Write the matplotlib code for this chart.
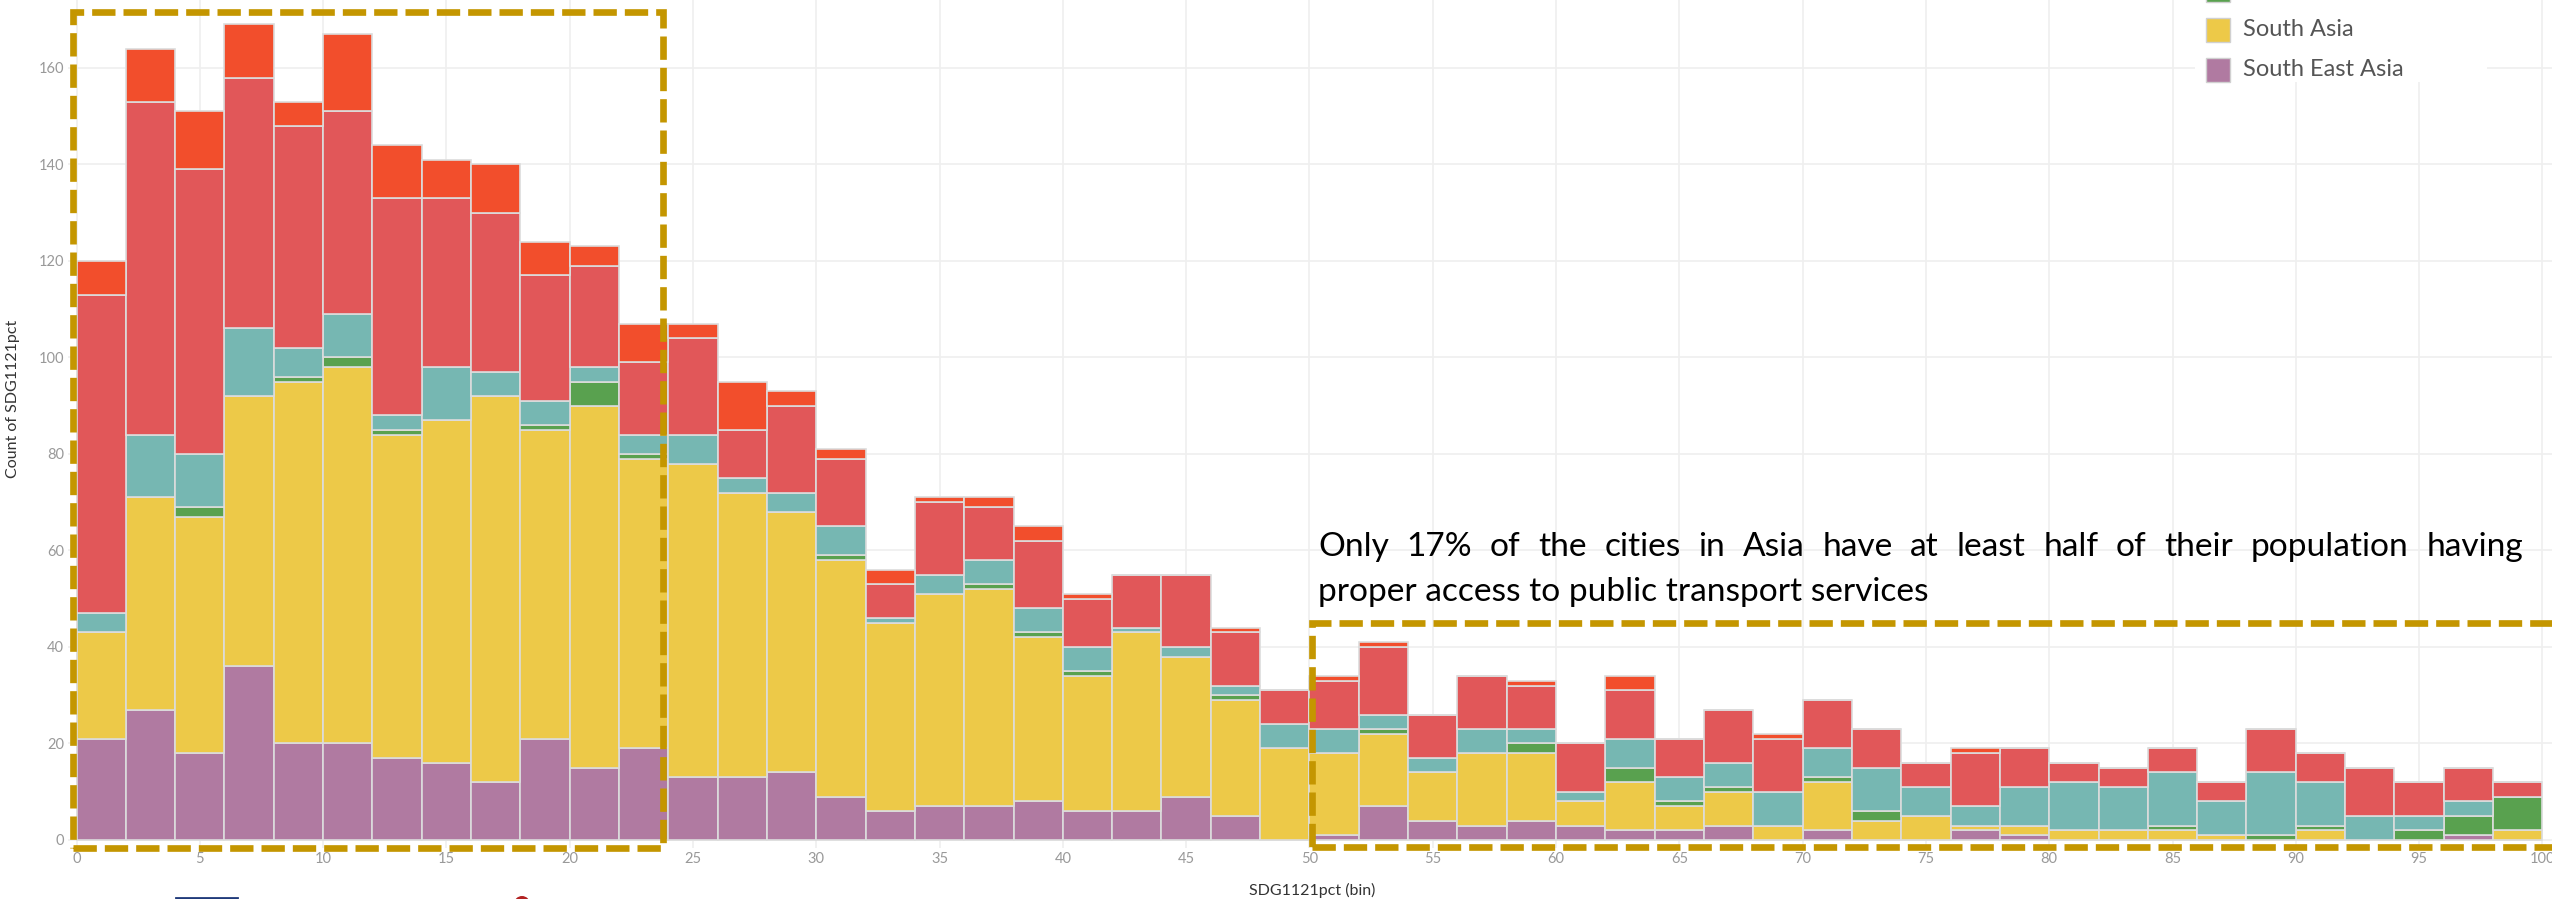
import matplotlib
matplotlib.use("Agg")
import matplotlib.pyplot as plt
from matplotlib.patches import Rectangle, Circle
from matplotlib.lines import Line2D
import numpy as np

plt.rcParams["font.family"] = ["Lato", "DejaVu Sans"]

# bins of SDG1121pct (width 2), counts per region, bottom to top of the stack
bin_starts = list(range(0, 100, 2))
bin_width = 2

south_east_asia = [21, 27, 18, 36, 20, 20, 17, 16, 12, 21, 15, 19, 13, 13, 14, 9, 6, 7, 7, 8,
                   6, 6, 9, 5, 0, 1, 7, 4, 3, 4, 3, 2, 2, 3, 0, 2, 0, 0, 2, 1,
                   0, 0, 0, 0, 0, 0, 0, 0, 1, 0]
south_asia = [22, 44, 49, 56, 75, 78, 67, 71, 80, 64, 75, 60, 65, 59, 54, 49, 39, 44, 45, 34,
              28, 37, 29, 24, 19, 17, 15, 10, 15, 14, 5, 10, 5, 7, 3, 10, 4, 5, 1, 2,
              2, 2, 2, 1, 0, 2, 0, 0, 0, 2]
region_green = [0, 0, 2, 0, 1, 2, 1, 0, 0, 1, 5, 1, 0, 0, 0, 1, 0, 0, 1, 1,
                1, 0, 0, 1, 0, 0, 1, 0, 0, 2, 0, 3, 1, 1, 0, 1, 2, 0, 0, 0,
                0, 0, 1, 0, 1, 1, 0, 2, 4, 7]
region_teal = [4, 13, 11, 14, 6, 9, 3, 11, 5, 5, 3, 4, 6, 3, 4, 6, 1, 4, 5, 5,
               5, 1, 2, 2, 5, 5, 3, 3, 5, 3, 2, 6, 5, 5, 7, 6, 9, 6, 4, 8,
               10, 9, 11, 7, 13, 9, 5, 3, 3, 0]
region_red = [66, 69, 59, 52, 46, 42, 45, 35, 33, 26, 21, 15, 20, 10, 18, 14, 7, 15, 11, 14,
              10, 11, 15, 11, 7, 10, 14, 9, 11, 9, 10, 10, 8, 11, 11, 10, 8, 5, 11, 8,
              4, 4, 5, 4, 9, 6, 10, 7, 7, 3]
region_orange = [7, 11, 12, 11, 5, 16, 11, 8, 10, 7, 4, 8, 3, 10, 3, 2, 3, 1, 2, 3,
                 1, 0, 0, 1, 0, 1, 1, 0, 0, 1, 0, 3, 0, 0, 1, 0, 0, 0, 1, 0,
                 0, 0, 0, 0, 0, 0, 0, 0, 0, 0]

series = [south_east_asia, south_asia, region_green, region_teal, region_red, region_orange]
colors = ["#B07AA1", "#EDC948", "#59A14F", "#76B7B2", "#E15759", "#F24E2C"]

x_ticks = list(range(0, 101, 5))
y_ticks = list(range(0, 161, 20))

W, H = 2552, 899
fig = plt.figure(figsize=(W / 100, H / 100), dpi=100)
ax = fig.add_axes([68 / W, 51 / H, (W - 68) / W, (H - 51) / H])

bottom = np.zeros(len(bin_starts))
for vals, col in zip(series, colors):
    ax.bar(bin_starts, vals, width=bin_width, bottom=bottom, align="edge",
           color=col, edgecolor="#DCDCDC", linewidth=1.2, zorder=2)
    bottom += np.array(vals)

ax.set_xlim(-0.345, 100.39)
ax.set_ylim(-1.66, 174.06)
ax.set_xticks(x_ticks)
ax.set_yticks(y_ticks)
ax.tick_params(length=0, labelsize=10.5, colors="#999999", pad=3)
for s in ax.spines.values():
    s.set_visible(False)
ax.grid(True, color="#EFEFEF", linewidth=1.2, zorder=0)
ax.set_axisbelow(True)

# y label / x label
fig.text(13, 500, "Count of SDG1121pct", transform=None, rotation=90,
         ha="center", va="center", fontsize=11.5, color="#333333")
fig.text(1312, 9, "SDG1121pct (bin)", transform=None,
         ha="center", va="center", fontsize=11.5, color="#333333")

# dashed highlight boxes
gold = "#C49600"
ax.add_patch(Rectangle((-0.15, -1.6), 23.95, 173.2, fill=False, edgecolor=gold,
                       linewidth=4.8, linestyle=(0, (3.5, 1.2)), clip_on=False, zorder=5))
ax.add_patch(Rectangle((50.1, -1.5), 52, 46.5, fill=False, edgecolor=gold,
                       linewidth=4.8, linestyle=(0, (3.5, 1.2)), clip_on=False, zorder=5))

# annotation, justified first line
renderer = fig.canvas.get_renderer()
line1 = "Only 17% of the cities in Asia have at least half of their population having"
line2 = "proper access to public transport services"
t2 = fig.text(1318, H - 601, line2, transform=None, fontsize=20, va="baseline", color="black")
w2 = t2.get_window_extent(renderer).width
fs = 20 * 611 / w2
t2.set_fontsize(fs)

words = line1.split()
word_texts = [fig.text(0, H - 556, w, transform=None, fontsize=fs, va="baseline", color="black")
              for w in words]
widths = [t.get_window_extent(renderer).width for t in word_texts]
x0, x1 = 1318, 2523
gap = (x1 - x0 - sum(widths)) / (len(words) - 1)
xpos = x0
for t, w in zip(word_texts, widths):
    t.set_x(xpos)
    xpos += w + gap

# legend (cut off at the top like the reference; the first row shows only its square's edge)
fig.patches.append(Rectangle((2195, H - 82), 292, 82, transform=None,
                             facecolor="white", edgecolor="none", zorder=3))
legend_rows = [(None, "#59A14F", H + 10), ("South Asia", "#EDC948", H - 30),
               ("South East Asia", "#B07AA1", H - 70)]
for name, col, yc in legend_rows:
    fig.patches.append(Rectangle((2206, yc - 12), 24, 24, transform=None,
                                 facecolor=col, edgecolor="#D0D0D0", linewidth=1, zorder=4))
    if name:
        fig.text(2243, yc, name, transform=None, va="center", fontsize=17,
                 color="#555555", zorder=4)

# cut-off bits at the bottom edge
fig.add_artist(Line2D([176, 237], [1, 1], transform=None, color="#1F3A7A", linewidth=2))
fig.patches.append(Circle((522, -5), 8, transform=None, facecolor="#B22222", edgecolor="none"))

fig.savefig("out.png", dpi=100)
